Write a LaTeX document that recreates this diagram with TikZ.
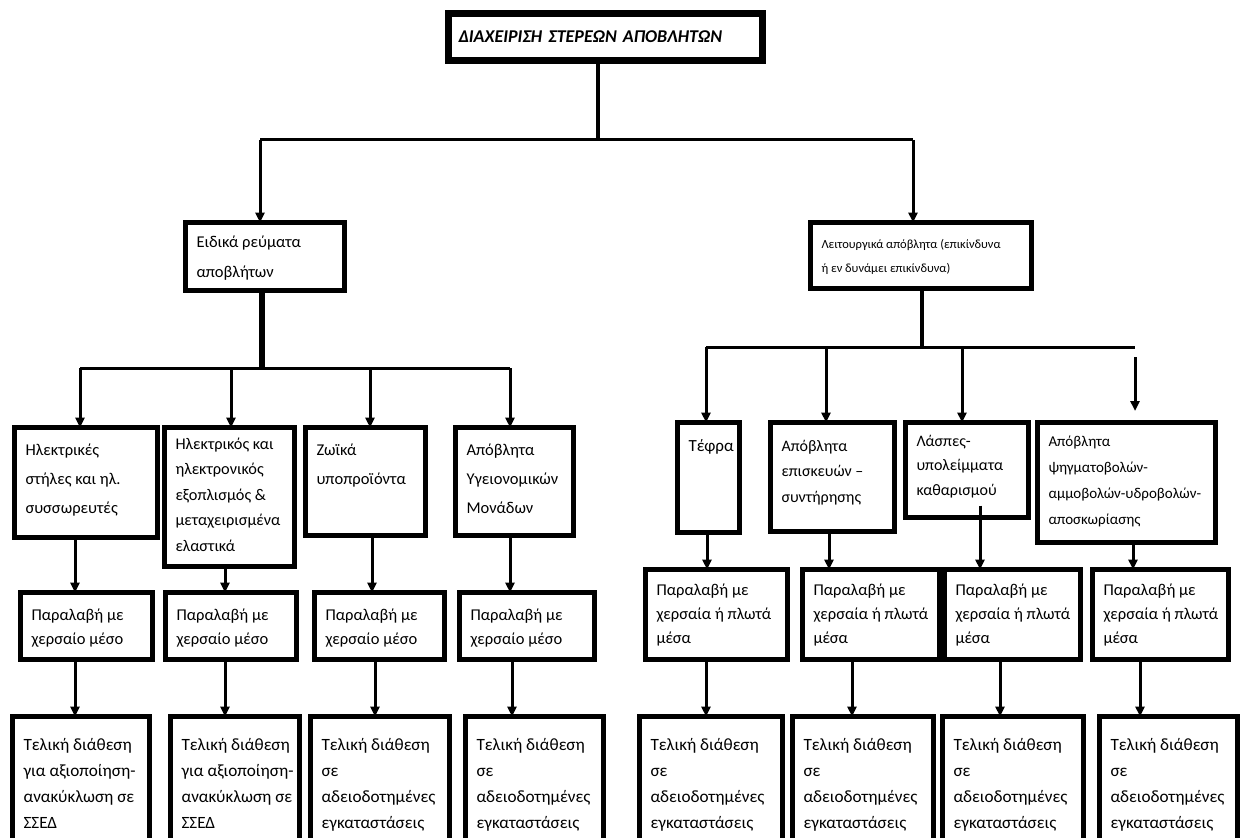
\documentclass[tikz,border=0pt]{standalone}
\usepackage{fontspec}
\setmainfont{Carlito}
\usetikzlibrary{arrows.meta}
\newcommand{\cell}[4][0pt]{\parbox[c][\dimexpr#3pt-13pt\relax][t]{\dimexpr#2pt-27pt\relax}{\vspace*{#1}\begin{tabular}[t]{@{}l@{}}#4\end{tabular}}}

\begin{document}
\begin{tikzpicture}[x=1pt,y=-1pt,
  box/.style={draw,line width=5pt,anchor=north west,inner xsep=11pt,inner ysep=4pt,outer sep=0pt,
    fill=white,xshift=2.5pt,yshift=-2.5pt},
  line/.style={line width=3pt},
  arr/.style={line width=3pt,-{Triangle[length=10pt,width=9pt]}},
  big/.style={font=\fontsize{16.5}{29}\selectfont},
  mid/.style={font=\fontsize{16}{25.5}\selectfont},
  take/.style={font=\fontsize{16.5}{24}\selectfont},
  final/.style={font=\fontsize{17.2}{26}\selectfont}]
\useasboundingbox (0,0) rectangle (1246,837);
\clip (0,0) rectangle (1246,837);

% top
\node[box,line width=7pt,inner xsep=10pt,inner ysep=0pt,minimum height=47pt,text width=294pt,align=left,
  font=\fontsize{18}{20}\selectfont\bfseries\itshape] (title) at (446,11) {ΔΙΑΧΕΙΡΙΣΗ ΣΤΕΡΕΩΝ ΑΠΟΒΛΗΤΩΝ};

% second level
\node[box,font=\fontsize{16.5}{30}\selectfont] (spec) at (183,220) {\cell{164}{73}{Ειδικά ρεύματα\\αποβλήτων}};
\node[box,font=\fontsize{12.5}{24}\selectfont] (oper) at (808,220) {\cell[5pt]{226}{71}{Λειτουργικά απόβλητα (επικίνδυνα\\ή εν δυνάμει επικίνδυνα)}};

% special streams
\node[box,big] (bat) at (12,425) {\cell[4pt]{148}{115}{Ηλεκτρικές\\στήλες και ηλ.\\συσσωρευτές}};
\node[box,font=\fontsize{16.3}{25.5}\selectfont] (weee) at (162,425) {\cell{135}{144}{Ηλεκτρικός και\\ηλεκτρονικός\\εξοπλισμός \&\\μεταχειρισμένα\\ελαστικά}};
\node[box,big] (anim) at (303,425) {\cell[3.5pt]{125}{113}{Ζωϊκά\\υποπροϊόντα}};
\node[box,big] (hosp) at (453,425) {\cell[3.5pt]{123}{113}{Απόβλητα\\Υγειονομικών\\Μονάδων}};

% operational waste
\node[box,font=\fontsize{17}{29}\selectfont] (ash) at (675,420) {\cell[4.5pt]{67}{115}{Τέφρα}};
\node[box,mid] (repr) at (768,420) {\cell[7pt]{129}{114}{Απόβλητα\\επισκευών –\\συντήρησης}};
\node[box,font=\fontsize{16}{24.5}\selectfont] (slud) at (903,420) {\cell[2.5pt]{128}{100}{Λάσπες-\\υπολείμματα\\καθαρισμού}};
\node[box,font=\fontsize{15}{26}\selectfont] (blast) at (1035,420) {\cell[2pt]{183}{125}{Απόβλητα\\ψηγματοβολών-\\αμμοβολών-υδροβολών-\\αποσκωρίασης}};

% collection
\node[box,take] (col1) at (18,590) {\cell[7.5pt]{137}{72}{Παραλαβή με\\χερσαίο μέσο}};
\node[box,take] (col2) at (163,590) {\cell[7.5pt]{136}{72}{Παραλαβή με\\χερσαίο μέσο}};
\node[box,take] (col3) at (312,590) {\cell[7.5pt]{135}{72}{Παραλαβή με\\χερσαίο μέσο}};
\node[box,take] (col4) at (457,590) {\cell[7.5pt]{140}{72}{Παραλαβή με\\χερσαίο μέσο}};
\node[box,take] (col5) at (643,567) {\cell[5.5pt]{147}{95}{Παραλαβή με\\χερσαία ή πλωτά\\μέσα}};
\node[box,take] (col6) at (800,567) {\cell[5.5pt]{142}{95}{Παραλαβή με\\χερσαία ή πλωτά\\μέσα}};
\node[box,take] (col7) at (942,567) {\cell[5.5pt]{141}{95}{Παραλαβή με\\χερσαία ή πλωτά\\μέσα}};
\node[box,take] (col8) at (1090,567) {\cell[5.5pt]{141}{95}{Παραλαβή με\\χερσαία ή πλωτά\\μέσα}};

% final disposal
\node[box,final] (fin1) at (10,714) {\cell[12pt]{142}{140}{Τελική διάθεση\\για αξιοποίηση-\\ανακύκλωση σε\\ΣΣΕΔ}};
\node[box,final] (fin2) at (168,714) {\cell[12pt]{134}{140}{Τελική διάθεση\\για αξιοποίηση-\\ανακύκλωση σε\\ΣΣΕΔ}};
\node[box,final] (fin3) at (308,714) {\cell[12pt]{144}{140}{Τελική διάθεση\\σε\\αδειοδοτημένες\\εγκαταστάσεις}};
\node[box,final] (fin4) at (463,714) {\cell[12pt]{143}{140}{Τελική διάθεση\\σε\\αδειοδοτημένες\\εγκαταστάσεις}};
\node[box,final] (fin5) at (637,714) {\cell[12pt]{148}{140}{Τελική διάθεση\\σε\\αδειοδοτημένες\\εγκαταστάσεις}};
\node[box,final] (fin6) at (790,714) {\cell[12pt]{146}{140}{Τελική διάθεση\\σε\\αδειοδοτημένες\\εγκαταστάσεις}};
\node[box,final] (fin7) at (940,714) {\cell[12pt]{146}{140}{Τελική διάθεση\\σε\\αδειοδοτημένες\\εγκαταστάσεις}};
\node[box,final] (fin8) at (1097,714) {\cell[12pt]{143}{140}{Τελική διάθεση\\σε\\αδειοδοτημένες\\εγκαταστάσεις}};

% junctions
\coordinate (j0) at (598,140);
\coordinate (j0l) at (260,140);
\coordinate (j0r) at (913,140);
\coordinate (j1) at (262,368);
\coordinate (j1a) at (80,368);
\coordinate (j1b) at (231,368);
\coordinate (j1c) at (370,368);
\coordinate (j1d) at (510,368);
\coordinate (j2) at (922,347);
\coordinate (j2a) at (706,347);
\coordinate (j2b) at (826,347);
\coordinate (j2c) at (962,347);
\coordinate (j2d) at (1135,347);
\coordinate (j2e) at (1135,357);

\draw[line width=4pt] (j0 |- title.south) -- (j0);
\draw[line] (j0l) -- (j0r);
\draw[arr] (j0l) -- (j0l |- spec.north);
\draw[arr] (j0r) -- (j0r |- oper.north);

\draw[line width=6pt] (j1 |- spec.south) -- (j1);
\draw[line] (j1a) -- (j1d);
\draw[arr] (j1a) -- (j1a |- bat.north);
\draw[arr] (j1b) -- (j1b |- weee.north);
\draw[arr] (j1c) -- (j1c |- anim.north);
\draw[arr] (j1d) -- (j1d |- hosp.north);

\draw[line width=4pt] (j2 |- oper.south) -- (j2);
\draw[line] (j2a) -- (j2d);
\draw[arr] (j2a) -- (j2a |- ash.north);
\draw[arr] (j2b) -- (j2b |- repr.north);
\draw[arr] (j2c) -- (j2c |- slud.north);
\draw[arr] (j2e) -- ++(0,54);

% down to collection
\draw[arr] ([xshift=-11pt]bat.south) -- ([xshift=-11pt]bat.south |- col1.north);
\draw[arr] ([xshift=-4.5pt]weee.south) -- ([xshift=-4.5pt]weee.south |- col2.north);
\draw[arr] ([xshift=6.5pt]anim.south) -- ([xshift=6.5pt]anim.south |- col3.north);
\draw[arr] ([xshift=-4.5pt]hosp.south) -- ([xshift=-4.5pt]hosp.south |- col4.north);
\draw[arr] ([xshift=-1.5pt]ash.south) -- ([xshift=-1.5pt]ash.south |- col5.north);
\draw[arr] ([xshift=-3.5pt]repr.south) -- ([xshift=-3.5pt]repr.south |- col6.north);
\draw[arr] ([xshift=13pt,yshift=12pt]slud.south) -- ([xshift=13pt]slud.south |- col7.north);
\draw[arr] ([xshift=6.5pt]blast.south) -- ([xshift=6.5pt]blast.south |- col8.north);

% down to disposal
\draw[arr] ([xshift=-11.5pt]col1.south) -- ([xshift=-11.5pt]col1.south |- fin1.north);
\draw[arr] ([xshift=-6pt]col2.south) -- ([xshift=-6pt]col2.south |- fin2.north);
\draw[arr] ([xshift=-4.5pt]col3.south) -- ([xshift=-4.5pt]col3.south |- fin3.north);
\draw[arr] ([xshift=-15pt]col4.south) -- ([xshift=-15pt]col4.south |- fin4.north);
\draw[arr] ([xshift=-10.5pt]col5.south) -- ([xshift=-10.5pt]col5.south |- fin5.north);
\draw[arr] ([xshift=-19pt]col6.south) -- ([xshift=-19pt]col6.south |- fin6.north);
\draw[arr] ([xshift=-12.5pt]col7.south) -- ([xshift=-12.5pt]col7.south |- fin7.north);
\draw[arr] ([xshift=-20.5pt]col8.south) -- ([xshift=-20.5pt]col8.south |- fin8.north);
\end{tikzpicture}
\end{document}
